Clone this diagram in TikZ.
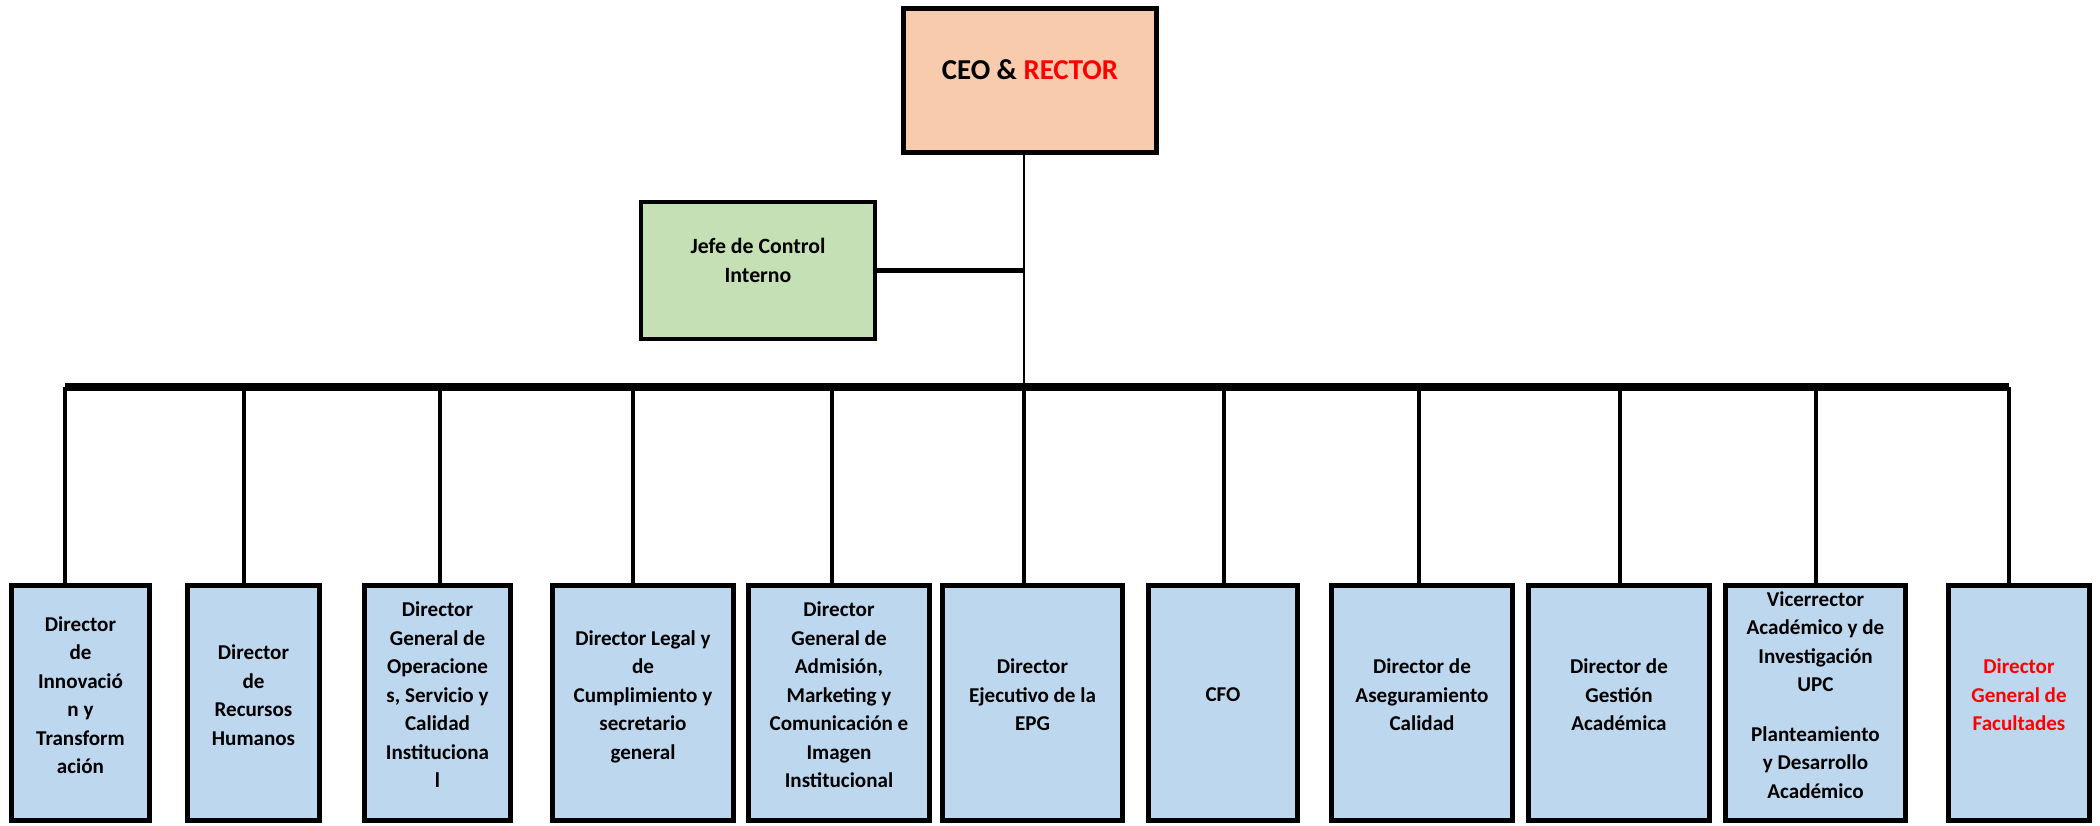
\documentclass[tikz,border=0pt]{standalone}
\usepackage{fontspec}
\setmainfont{Carlito}
\usepackage{xcolor}
\definecolor{peach}{HTML}{F8CBAD}
\definecolor{sage}{HTML}{C5E0B4}
\definecolor{sky}{HTML}{BDD7EE}
\definecolor{rojo}{HTML}{FF0000}

\begin{document}
\begin{tikzpicture}
\tikzstyle{head} =[draw, fill=peach, line width=1.5pt, inner sep=0pt, minimum width=2.53cm, minimum height=1.44cm, text depth=0.21cm, font=\fontsize{8.2}{10}\selectfont\bfseries]
\tikzstyle{staff}=[draw, fill=sage, line width=1pt, inner sep=0pt, minimum width=2.345cm, minimum height=1.375cm, align=center, text depth=0.21cm, font=\fontsize{6.2}{8.2}\selectfont\bfseries]
\tikzstyle{unit} =[draw, fill=sky, line width=1.3pt, inner sep=0pt, minimum height=2.354cm, align=center, text depth=0.16cm, font=\fontsize{6}{8.1}\selectfont\bfseries]
\tikzstyle{link} =[line width=0.85pt]
\tikzstyle{drop} =[line width=1.1pt]

\useasboundingbox (0,0) rectangle (21,-8.26);

\node[head](ceo) at (10.30,-0.805){CEO \& \textcolor{rojo}{RECTOR}};
\node[staff](jefe) at (7.58,-2.705){Jefe de Control\\Interno};

\node[unit,minimum width=1.384cm](b1) at (0.805,-7.03){Director\\de\\Innovació\\n y\\Transform\\ación};
\node[unit,minimum width=1.324cm](b2) at (2.535,-7.03){Director\\de\\Recursos\\Humanos};
\node[unit,minimum width=1.464cm](b3) at (4.375,-7.03){Director\\General de\\Operacione\\s, Servicio y\\Calidad\\Instituciona\\l};
\node[unit,minimum width=1.814cm](b4) at (6.43,-7.03){Director Legal y\\de\\Cumplimiento y\\secretario\\general};
\node[unit,minimum width=1.814cm](b5) at (8.39,-7.03){Director\\General de\\Admisión,\\Marketing y\\Comunicación e\\Imagen\\Institucional};
\node[unit,minimum width=1.804cm](b6) at (10.325,-7.03){Director\\Ejecutivo de la\\EPG};
\node[unit,minimum width=1.494cm](b7) at (12.23,-7.03){CFO};
\node[unit,minimum width=1.814cm](b8) at (14.22,-7.03){Director de\\Aseguramiento\\Calidad};
\node[unit,minimum width=1.814cm](b9) at (16.19,-7.03){Director de\\Gestión\\Académica};
\node[unit,minimum width=1.804cm](b10) at (18.155,-7.03){Vicerrector\\Académico y de\\Investigación\\UPC\\[6pt]Planteamiento\\y Desarrollo\\Académico};
\node[unit,minimum width=1.414cm,text=rojo](b11) at (20.19,-7.03){Director\\General de\\Facultades};

\foreach \x [count=\i] in {0.65,2.44,4.40,6.33,8.32,10.24,12.24,14.19,16.20,18.16,20.09}
  \coordinate (d\i) at (\x,-3.87);

\draw [link] (d6 |- ceo.south) to (d6);
\draw [line width=1.5pt] (jefe.east) to (jefe.east -| d6);
\draw [line width=2pt] (d1) to (d11);
\foreach \i in {1,...,11}
  \draw [drop] (d\i) to (d\i |- b\i.north);
\end{tikzpicture}
\end{document}
